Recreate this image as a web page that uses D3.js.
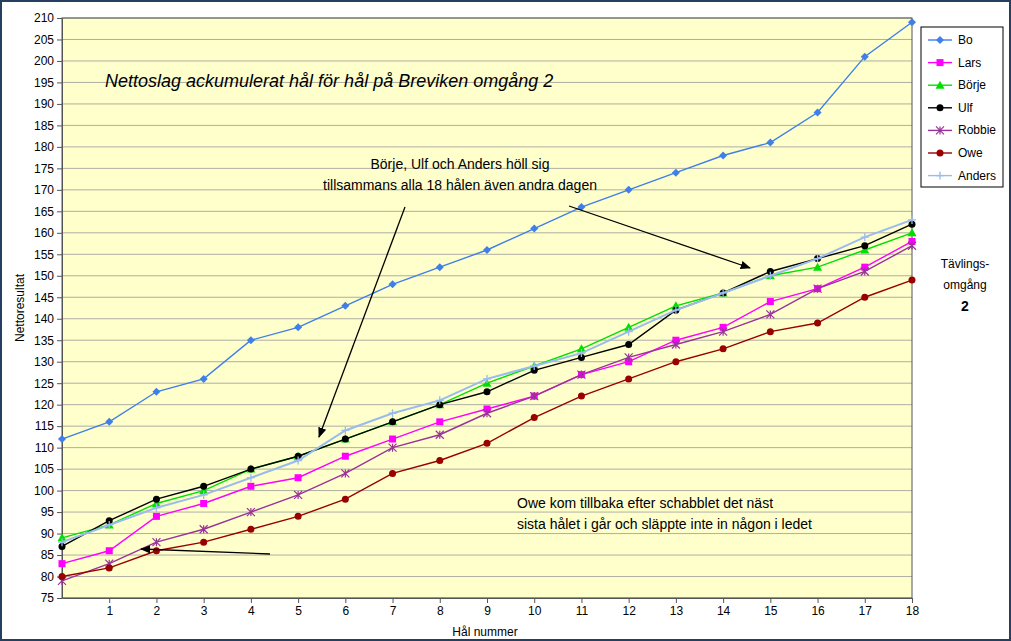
<!DOCTYPE html>
<html><head><meta charset="utf-8">
<script src="https://cdn.jsdelivr.net/npm/d3@7"></script>
<style>body{margin:0;background:#fff;font-family:"Liberation Sans",Arial,sans-serif}</style>
</head><body>
<svg id="chart" width="1011" height="641"></svg>
<script>
// data
const holes = d3.range(0, 19);
const yTicks = d3.range(75, 211, 5);
const players = ["Bo", "Lars", "Börje", "Ulf", "Robbie", "Owe", "Anders"];
const bo     = [112,116,123,126,135,138,143,148,152,156,161,166,170,174,178,181,188,201,209];
const lars   = [83,86,94,97,101,103,108,112,116,119,122,127,130,135,138,144,147,152,158];
const borje  = [89,92,97,100,105,108,112,116,120,125,129,133,138,143,146,150,152,156,160];
const ulf    = [87,93,98,101,105,108,112,116,120,123,128,131,134,142,146,151,154,157,162];
const robbie = [79,83,88,91,95,99,104,110,113,118,122,127,131,134,137,141,147,151,157];
const owe    = [80,82,86,88,91,94,98,104,107,111,117,122,126,130,133,137,139,145,149];
const anders = [88,92,96,99,103,107,114,118,121,126,129,132,137,142,146,150,154,159,163];
const seriesValues = [bo, lars, borje, ulf, robbie, owe, anders];
const colors = ["#3f7fe8", "#ff00ff", "#00e000", "#000000", "#993399", "#990000", "#99bbee"];
const markers = ["diamond", "square", "triangle", "circle", "x", "circle", "plus"];

const svg = d3.select("#chart");
const pLeft = 62, pRight = 912, pTop = 18, pBottom = 598;
const x = d3.scaleLinear().domain([0, 18]).range([pLeft, pRight]);
const y = d3.scaleLinear().domain([75, 210]).range([pBottom, pTop]);

// frame
svg.append("rect").attr("x", 1).attr("y", 1).attr("width", 1009).attr("height", 639)
  .attr("fill", "#fff").attr("stroke", "#243f60").attr("stroke-width", 2);
svg.append("rect").attr("x", pLeft).attr("y", pTop).attr("width", pRight - pLeft).attr("height", pBottom - pTop)
  .attr("fill", "#ffffcc");

// gridlines
svg.append("g").selectAll("line").data(yTicks).enter().append("line")
  .attr("x1", pLeft).attr("x2", pRight).attr("y1", d => y(d)).attr("y2", d => y(d))
  .attr("stroke", "#999").attr("stroke-width", 0.8);
svg.append("rect").attr("x", pLeft).attr("y", pTop).attr("width", pRight - pLeft).attr("height", pBottom - pTop)
  .attr("fill", "none").attr("stroke", "#555");

// axes
const yAxis = svg.append("g").attr("transform", `translate(${pLeft},0)`)
  .call(d3.axisLeft(y).tickValues(yTicks).tickSize(5).tickSizeOuter(0));
const xAxis = svg.append("g").attr("transform", `translate(0,${pBottom})`)
  .call(d3.axisBottom(x).tickValues(holes.slice(1)).tickSize(5).tickSizeOuter(0));
[xAxis, yAxis].forEach(a => {
  a.selectAll("text").attr("font-size", 12).attr("fill", "#000").attr("font-family", "Liberation Sans, Arial");
  a.select(".domain").attr("stroke", "#555");
  a.selectAll(".tick line").attr("stroke", "#555");
});
yAxis.selectAll("text").attr("x", -8);

svg.append("text").attr("x", 485).attr("y", 636).attr("text-anchor", "middle")
  .attr("font-size", 12).text("Hål nummer");
svg.append("text").attr("transform", "translate(24,308) rotate(-90)").attr("text-anchor", "middle")
  .attr("font-size", 12).text("Nettoresultat");

function drawMarker(g, type, color, cx, cy) {
  if (type === "diamond") g.append("path").attr("d", `M${cx},${cy-4}L${cx+4},${cy}L${cx},${cy+4}L${cx-4},${cy}Z`).attr("fill", color);
  else if (type === "square") g.append("rect").attr("x", cx-3.5).attr("y", cy-3.5).attr("width", 7).attr("height", 7).attr("fill", color);
  else if (type === "triangle") g.append("path").attr("d", `M${cx},${cy-4.5}L${cx+4.5},${cy+3.5}L${cx-4.5},${cy+3.5}Z`).attr("fill", color);
  else if (type === "circle") g.append("circle").attr("cx", cx).attr("cy", cy).attr("r", 3.5).attr("fill", color);
  else if (type === "x") g.append("path").attr("d", `M${cx-4},${cy-4}L${cx+4},${cy+4}M${cx-4},${cy+4}L${cx+4},${cy-4}M${cx},${cy-4}L${cx},${cy+4}`).attr("stroke", color).attr("stroke-width", 1.2);
  else if (type === "plus") g.append("path").attr("d", `M${cx-4},${cy}L${cx+4},${cy}M${cx},${cy-4}L${cx},${cy+4}`).attr("stroke", color).attr("stroke-width", 1.3);
}

const line = d3.line().x((d, i) => x(holes[i])).y(d => y(d));
seriesValues.forEach((vals, k) => {
  const g = svg.append("g");
  g.append("path").datum(vals).attr("d", line).attr("fill", "none")
    .attr("stroke", colors[k]).attr("stroke-width", k === 6 ? 2 : 1.4);
  vals.forEach((v, i) => drawMarker(g, markers[k], colors[k], x(holes[i]), y(v)));
});

// legend
const lg = svg.append("g");
lg.append("rect").attr("x", 921).attr("y", 27).attr("width", 82).attr("height", 160)
  .attr("fill", "#fff").attr("stroke", "#000");
players.forEach((p, k) => {
  const ly = 40 + k * 22.6;
  lg.append("line").attr("x1", 928).attr("x2", 952).attr("y1", ly).attr("y2", ly).attr("stroke", colors[k]).attr("stroke-width", 1.4);
  drawMarker(lg, markers[k], colors[k], 940, ly);
  lg.append("text").attr("x", 958).attr("y", ly + 4).attr("font-size", 12).text(p);
});

svg.append("text").attr("x", 965).attr("y", 268).attr("text-anchor", "middle").attr("font-size", 12).text("Tävlings-");
svg.append("text").attr("x", 965).attr("y", 289).attr("text-anchor", "middle").attr("font-size", 12).text("omgång");
svg.append("text").attr("x", 965).attr("y", 311).attr("text-anchor", "middle").attr("font-size", 14).attr("font-weight", "bold").text("2");

// title and notes
svg.append("text").attr("x", 105).attr("y", 87).attr("font-size", 18).attr("font-style", "italic").text("Nettoslag ackumulerat hål för hål på Breviken omgång 2");
svg.append("text").attr("x", 460).attr("y", 169).attr("text-anchor", "middle").attr("font-size", 14).text("Börje, Ulf och Anders höll sig");
svg.append("text").attr("x", 460).attr("y", 190).attr("text-anchor", "middle").attr("font-size", 14).text("tillsammans alla 18 hålen även andra dagen");
svg.append("text").attr("x", 517).attr("y", 508).attr("font-size", 14).text("Owe kom tillbaka efter schabblet det näst");
svg.append("text").attr("x", 517).attr("y", 529).attr("font-size", 14).text("sista hålet i går och släppte inte in någon i ledet");

svg.append("defs").append("marker").attr("id", "ah").attr("viewBox", "0 0 10 10")
  .attr("refX", 9).attr("refY", 5).attr("markerWidth", 8).attr("markerHeight", 8).attr("orient", "auto")
  .append("path").attr("d", "M0,1L10,5L0,9Z").attr("fill", "#000");
[[405, 207, 319, 437], [569, 206, 750, 268], [270, 554, 141, 549]].forEach(a => {
  svg.append("line").attr("x1", a[0]).attr("y1", a[1]).attr("x2", a[2]).attr("y2", a[3])
    .attr("stroke", "#000").attr("stroke-width", 1.3).attr("marker-end", "url(#ah)");
});
</script>
</body></html>
